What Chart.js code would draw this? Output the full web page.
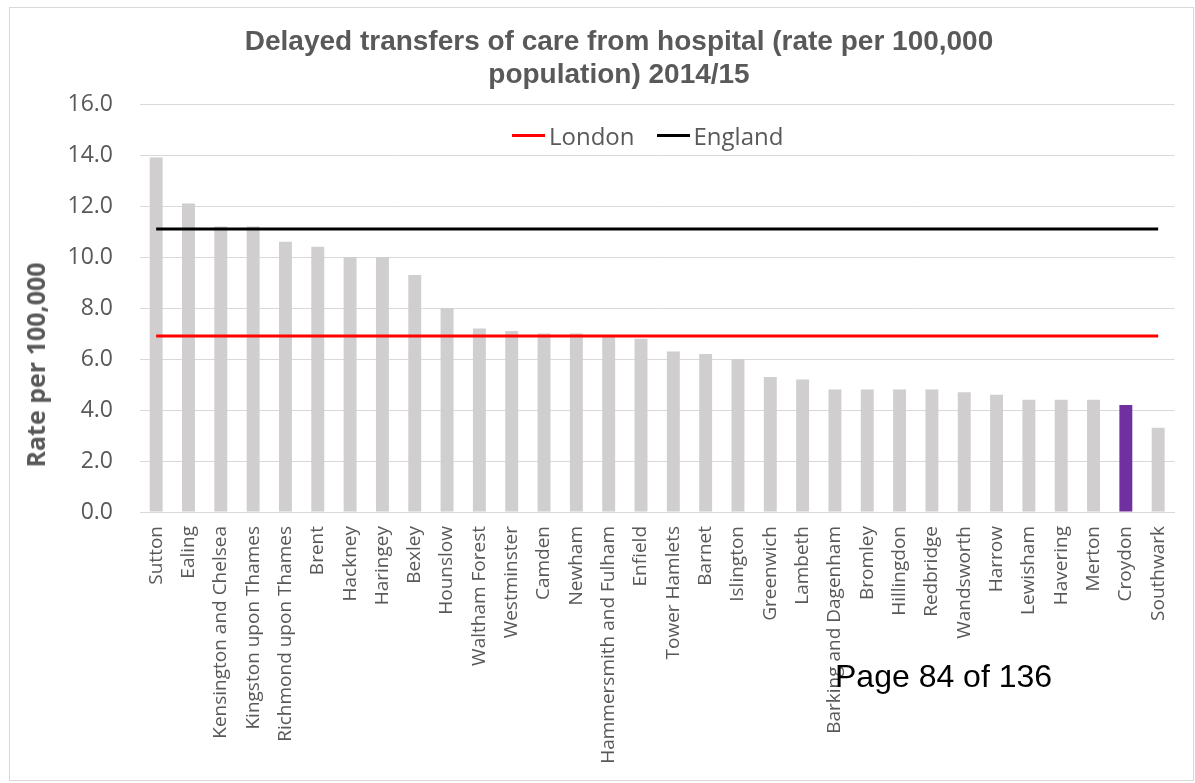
<!DOCTYPE html>
<html>
<head>
<meta charset="utf-8">
<title>Delayed transfers of care</title>
<script src="https://cdn.jsdelivr.net/npm/chart.js@4.4.1/dist/chart.umd.min.js"></script>
<style>
  html, body { margin: 0; padding: 0; background: #fff; }
  #wrap { position: relative; width: 1195px; height: 783px; overflow: hidden; }
  #frame { position: absolute; left: 9px; top: 7px; width: 1185px; height: 774px;
           border: 1px solid #d9d9d9; box-sizing: border-box; }
  #c { position: absolute; left: 0; top: 0; }
  #ytitle { position: absolute; left: 35px; top: 365px; transform: translate(-50%, -50%) rotate(-90deg);
            font: bold 25px "Open Sans", sans-serif; color: #595959; white-space: nowrap; }
  #legend { position: absolute; left: 512px; top: 119px; display: flex; align-items: center;
            font: 24px "Open Sans", sans-serif; color: #595959; white-space: nowrap; }
  #legend .item { display: flex; align-items: center; margin-right: 22px; }
  #legend .swatch { width: 33px; height: 3px; margin-right: 4px; }
  #page { position: absolute; left: 835px; top: 660px; font: 32px "Liberation Sans", Arial, sans-serif;
          line-height: 1; color: #000; white-space: nowrap; }
</style>
</head>
<body>
<div id="wrap">
  <div id="frame"></div>
  <canvas id="c"></canvas>
  <div id="ytitle">Rate per 100,000</div>
  <div id="legend"></div>
  <div id="page">Page 84 of 136</div>
</div>
<script>
  "use strict";

  const boroughs = [
    "Sutton", "Ealing", "Kensington and Chelsea", "Kingston upon Thames",
    "Richmond upon Thames", "Brent", "Hackney", "Haringey", "Bexley", "Hounslow",
    "Waltham Forest", "Westminster", "Camden", "Newham", "Hammersmith and Fulham",
    "Enfield", "Tower Hamlets", "Barnet", "Islington", "Greenwich", "Lambeth",
    "Barking and Dagenham", "Bromley", "Hillingdon", "Redbridge", "Wandsworth",
    "Harrow", "Lewisham", "Havering", "Merton", "Croydon", "Southwark",
  ];
  const rates = [
    13.9, 12.1, 11.2, 11.2, 10.6, 10.4, 10.0, 10.0, 9.3, 8.0,
    7.2, 7.1, 7.0, 7.0, 6.9, 6.8, 6.3, 6.2, 6.0, 5.3,
    5.2, 4.8, 4.8, 4.8, 4.8, 4.7, 4.6, 4.4, 4.4, 4.4,
    4.2, 3.3,
  ];
  const londonRate = 6.9;
  const englandRate = 11.1;
  const highlight = "Croydon";
  const yTicks = [0, 2, 4, 6, 8, 10, 12, 14, 16];
  const titleLines = [
    "Delayed transfers of care from hospital (rate per 100,000",
    "population) 2014/15",
  ];

  const TEXT = "#595959";
  const GRID = "#d9d9d9";
  const BAR = "#d0cece";
  const BAR_HI = "#7030a0";

  const W = 1195, H = 783;
  const PLOT_LEFT = 140, PLOT_BOTTOM = 512, PAD_LEFT = 45;

  const canvas = document.getElementById("c");
  canvas.width = W;
  canvas.height = H;
  canvas.style.width = W + "px";
  canvas.style.height = H + "px";

  const chart = new Chart(canvas, {
    data: {
      labels: boroughs,
      datasets: [
        {
          type: "line",
          label: "London",
          data: boroughs.map(() => londonRate),
          borderColor: "#ff0000",
          backgroundColor: "#ff0000",
          borderWidth: 3,
          pointRadius: 0,
          fill: false,
        },
        {
          type: "line",
          label: "England",
          data: boroughs.map(() => englandRate),
          borderColor: "#000000",
          backgroundColor: "#000000",
          borderWidth: 3,
          pointRadius: 0,
          fill: false,
        },
        {
          type: "bar",
          label: "Rate",
          data: rates,
          backgroundColor: boroughs.map((b) => (b === highlight ? BAR_HI : BAR)),
          barPercentage: 0.4,
          categoryPercentage: 1,
        },
      ],
    },
    options: {
      responsive: false,
      animation: false,
      layout: { padding: { left: PAD_LEFT, right: 2, top: 0, bottom: 0 } },
      plugins: {
        legend: { display: false },
        tooltip: { enabled: false },
        title: {
          display: true,
          text: titleLines,
          color: TEXT,
          font: { family: "'Liberation Sans', Arial, sans-serif", size: 28, weight: "bold", lineHeight: 1.18 },
          padding: { top: 26, bottom: 12 },
        },
      },
      scales: {
        x: {
          type: "category",
          grid: { display: false, drawTicks: false },
          border: { display: true, color: GRID, width: 1 },
          ticks: {
            color: TEXT,
            font: { family: "'Open Sans', sans-serif", size: 19 },
            minRotation: 90,
            maxRotation: 90,
            autoSkip: false,
            padding: 14,
          },
          afterFit: (scale) => { scale.height = H - PLOT_BOTTOM; },
        },
        y: {
          min: 0,
          max: 16,
          afterBuildTicks: (scale) => { scale.ticks = yTicks.map((v) => ({ value: v })); },
          grid: { color: GRID, drawTicks: false },
          border: { display: false },
          ticks: {
            color: TEXT,
            font: { family: "'Open Sans', sans-serif", size: 23 },
            padding: 27,
            callback: (v) => Number(v).toFixed(1),
          },
          afterFit: (scale) => { scale.width = PLOT_LEFT - PAD_LEFT; },
        },
      },
    },
  });

  // HTML legend for the two reference lines
  const legendEl = document.getElementById("legend");
  chart.data.datasets.filter((d) => d.type === "line").forEach((d) => {
    const item = document.createElement("div");
    item.className = "item";
    const sw = document.createElement("span");
    sw.className = "swatch";
    sw.style.background = d.borderColor;
    const txt = document.createElement("span");
    txt.textContent = d.label;
    item.appendChild(sw);
    item.appendChild(txt);
    legendEl.appendChild(item);
  });
</script>
</body>
</html>
